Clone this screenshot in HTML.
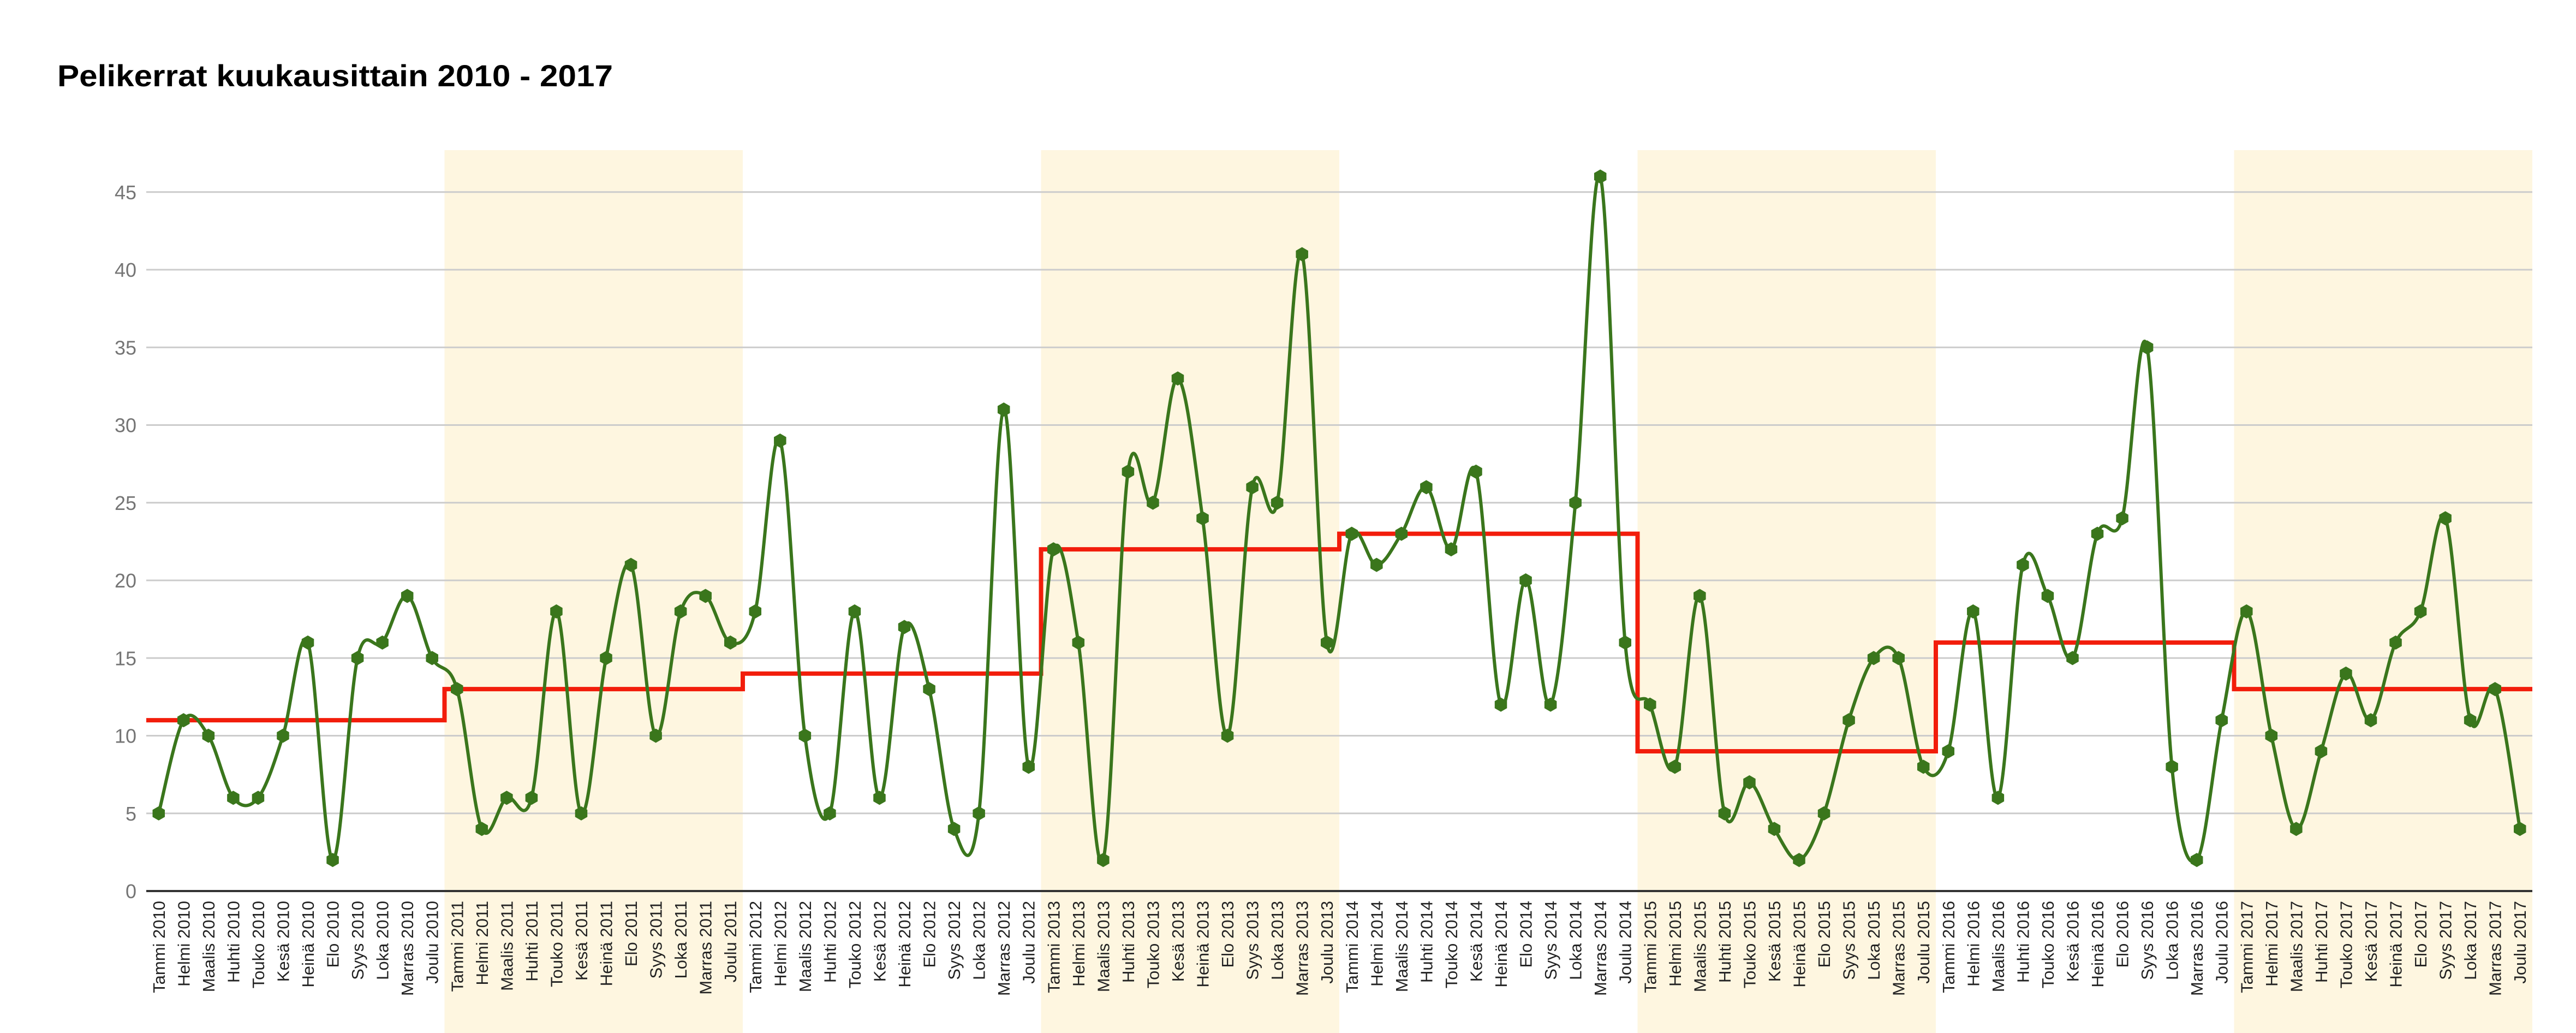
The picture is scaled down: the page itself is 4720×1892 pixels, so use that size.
<!DOCTYPE html>
<html><head><meta charset="utf-8"><style>
html,body{margin:0;padding:0;background:#fff;}
svg{display:block;}
</style></head><body>
<svg id="chart" width="4720" height="1892" viewBox="0 0 4720 1892" xmlns="http://www.w3.org/2000/svg" font-family="'Liberation Sans', sans-serif">
<text x="105" y="158" font-size="56" font-weight="bold" fill="#000" textLength="1018" lengthAdjust="spacingAndGlyphs">Pelikerrat kuukausittain 2010 - 2017</text>
<g id="bands"></g><g id="grid"></g><g id="xlabels"></g><g id="series"></g>
</svg>
<script>
const years = [2010, 2011, 2012, 2013, 2014, 2015, 2016, 2017];
const months = ["Tammi","Helmi","Maalis","Huhti","Touko","Kesä","Heinä","Elo","Syys","Loka","Marras","Joulu"];
const values2010 = [5,11,10,6,6,10,16,2,15,16,19,15];
const values2011 = [13,4,6,6,18,5,15,21,10,18,19,16];
const values2012 = [18,29,10,5,18,6,17,13,4,5,31,8];
const values2013 = [22,16,2,27,25,33,24,10,26,25,41,16];
const values2014 = [23,21,23,26,22,27,12,20,12,25,46,16];
const values2015 = [12,8,19,5,7,4,2,5,11,15,15,8];
const values2016 = [9,18,6,21,19,15,23,24,35,8,2,11];
const values2017 = [18,10,4,9,14,11,16,18,24,11,13,4];
const yearlyAverage = [11,13,14,22,23,9,16,13];
const yTicks = [0,5,10,15,20,25,30,35,40,45];
const shadedYears = [2011, 2013, 2015, 2017];

const NS = "http://www.w3.org/2000/svg";
const plotLeft = 268, plotRight = 4640, plotTop = 275, plotBottom = 1632;
const yMax = 47.7;
const allValues = [].concat(values2010,values2011,values2012,values2013,values2014,values2015,values2016,values2017);
const n = allValues.length;
const step = (plotRight - plotLeft) / n;
const xOf = i => plotLeft + step * (i + 0.5);
const xEdge = i => plotLeft + step * i;
const yOf = v => plotBottom - (plotBottom - plotTop) * v / yMax;
function mk(tag, attrs, parent){const e=document.createElementNS(NS,tag);for(const k in attrs)e.setAttribute(k,attrs[k]);parent.appendChild(e);return e;}

const bands = document.getElementById('bands');
shadedYears.forEach(y => {
  const yi = years.indexOf(y);
  const r = mk('rect', {x: xEdge(yi*12), y: plotTop, width: step*12, height: 1892-plotTop, fill: '#fef6e0'}, bands);
  
  
});

const grid = document.getElementById('grid');
yTicks.forEach(t => {
  if (t > 0) {
    const l = mk('line', {x1: plotLeft, x2: plotRight, y1: yOf(t), y2: yOf(t), stroke: '#cccccc', 'stroke-width': 3}, grid);
    
    
  }
  const tx = mk('text', {x: 250, y: yOf(t) + 13, 'text-anchor': 'end', 'font-size': 36, fill: '#757575'}, grid);
  tx.textContent = t;
  
  
});
const base = mk('line', {x1: plotLeft, x2: plotRight, y1: plotBottom, y2: plotBottom, stroke: '#333', 'stroke-width': 4}, grid);



const xl = document.getElementById('xlabels');
for (let i = 0; i < n; i++) {
  const label = months[i % 12] + ' ' + years[Math.floor(i / 12)];
  const x = xOf(i) + 11, y = 1650;
  const t = mk('text', {x: x, y: y, transform: 'rotate(-90 ' + x + ' ' + y + ')', 'text-anchor': 'end', 'font-size': 31, fill: '#222'}, xl);
  t.textContent = label;
  
  
}

const series = document.getElementById('series');
let d = '';
yearlyAverage.forEach((v, yi) => {
  const x0 = xEdge(yi*12), x1 = xEdge(yi*12 + 12), y = yOf(v);
  d += (yi === 0 ? 'M' : 'L') + x0 + ' ' + y + ' L' + x1 + ' ' + y + ' ';
});
const avg = mk('path', {d: d, fill: 'none', stroke: '#f21d0b', 'stroke-width': 8}, series);



const pts = allValues.map((v, i) => [xOf(i), yOf(v)]);
let p = 'M' + pts[0][0] + ' ' + pts[0][1];
for (let i = 0; i < n - 1; i++) {
  const p0 = pts[Math.max(0, i-1)], p1 = pts[i], p2 = pts[i+1], p3 = pts[Math.min(n-1, i+2)];
  const c1 = [p1[0] + (p2[0]-p0[0])/6, p1[1] + (p2[1]-p0[1])/6];
  const c2 = [p2[0] - (p3[0]-p1[0])/6, p2[1] - (p3[1]-p1[1])/6];
  p += ' C' + c1[0] + ' ' + c1[1] + ' ' + c2[0] + ' ' + c2[1] + ' ' + p2[0] + ' ' + p2[1];
}
const line = mk('path', {d: p, fill: 'none', stroke: '#3a761c', 'stroke-width': 6}, series);



pts.forEach((pt, i) => {
  const r = 13;
  let hp = '';
  for (let k = 0; k < 6; k++) {
    const a = Math.PI/6 + k*Math.PI/3;
    hp += (pt[0] + r*Math.cos(a)) + ',' + (pt[1] + r*Math.sin(a)) + ' ';
  }
  const m = mk('polygon', {points: hp, fill: '#3a761c'}, series);
  
  
});
</script>
</body></html>
